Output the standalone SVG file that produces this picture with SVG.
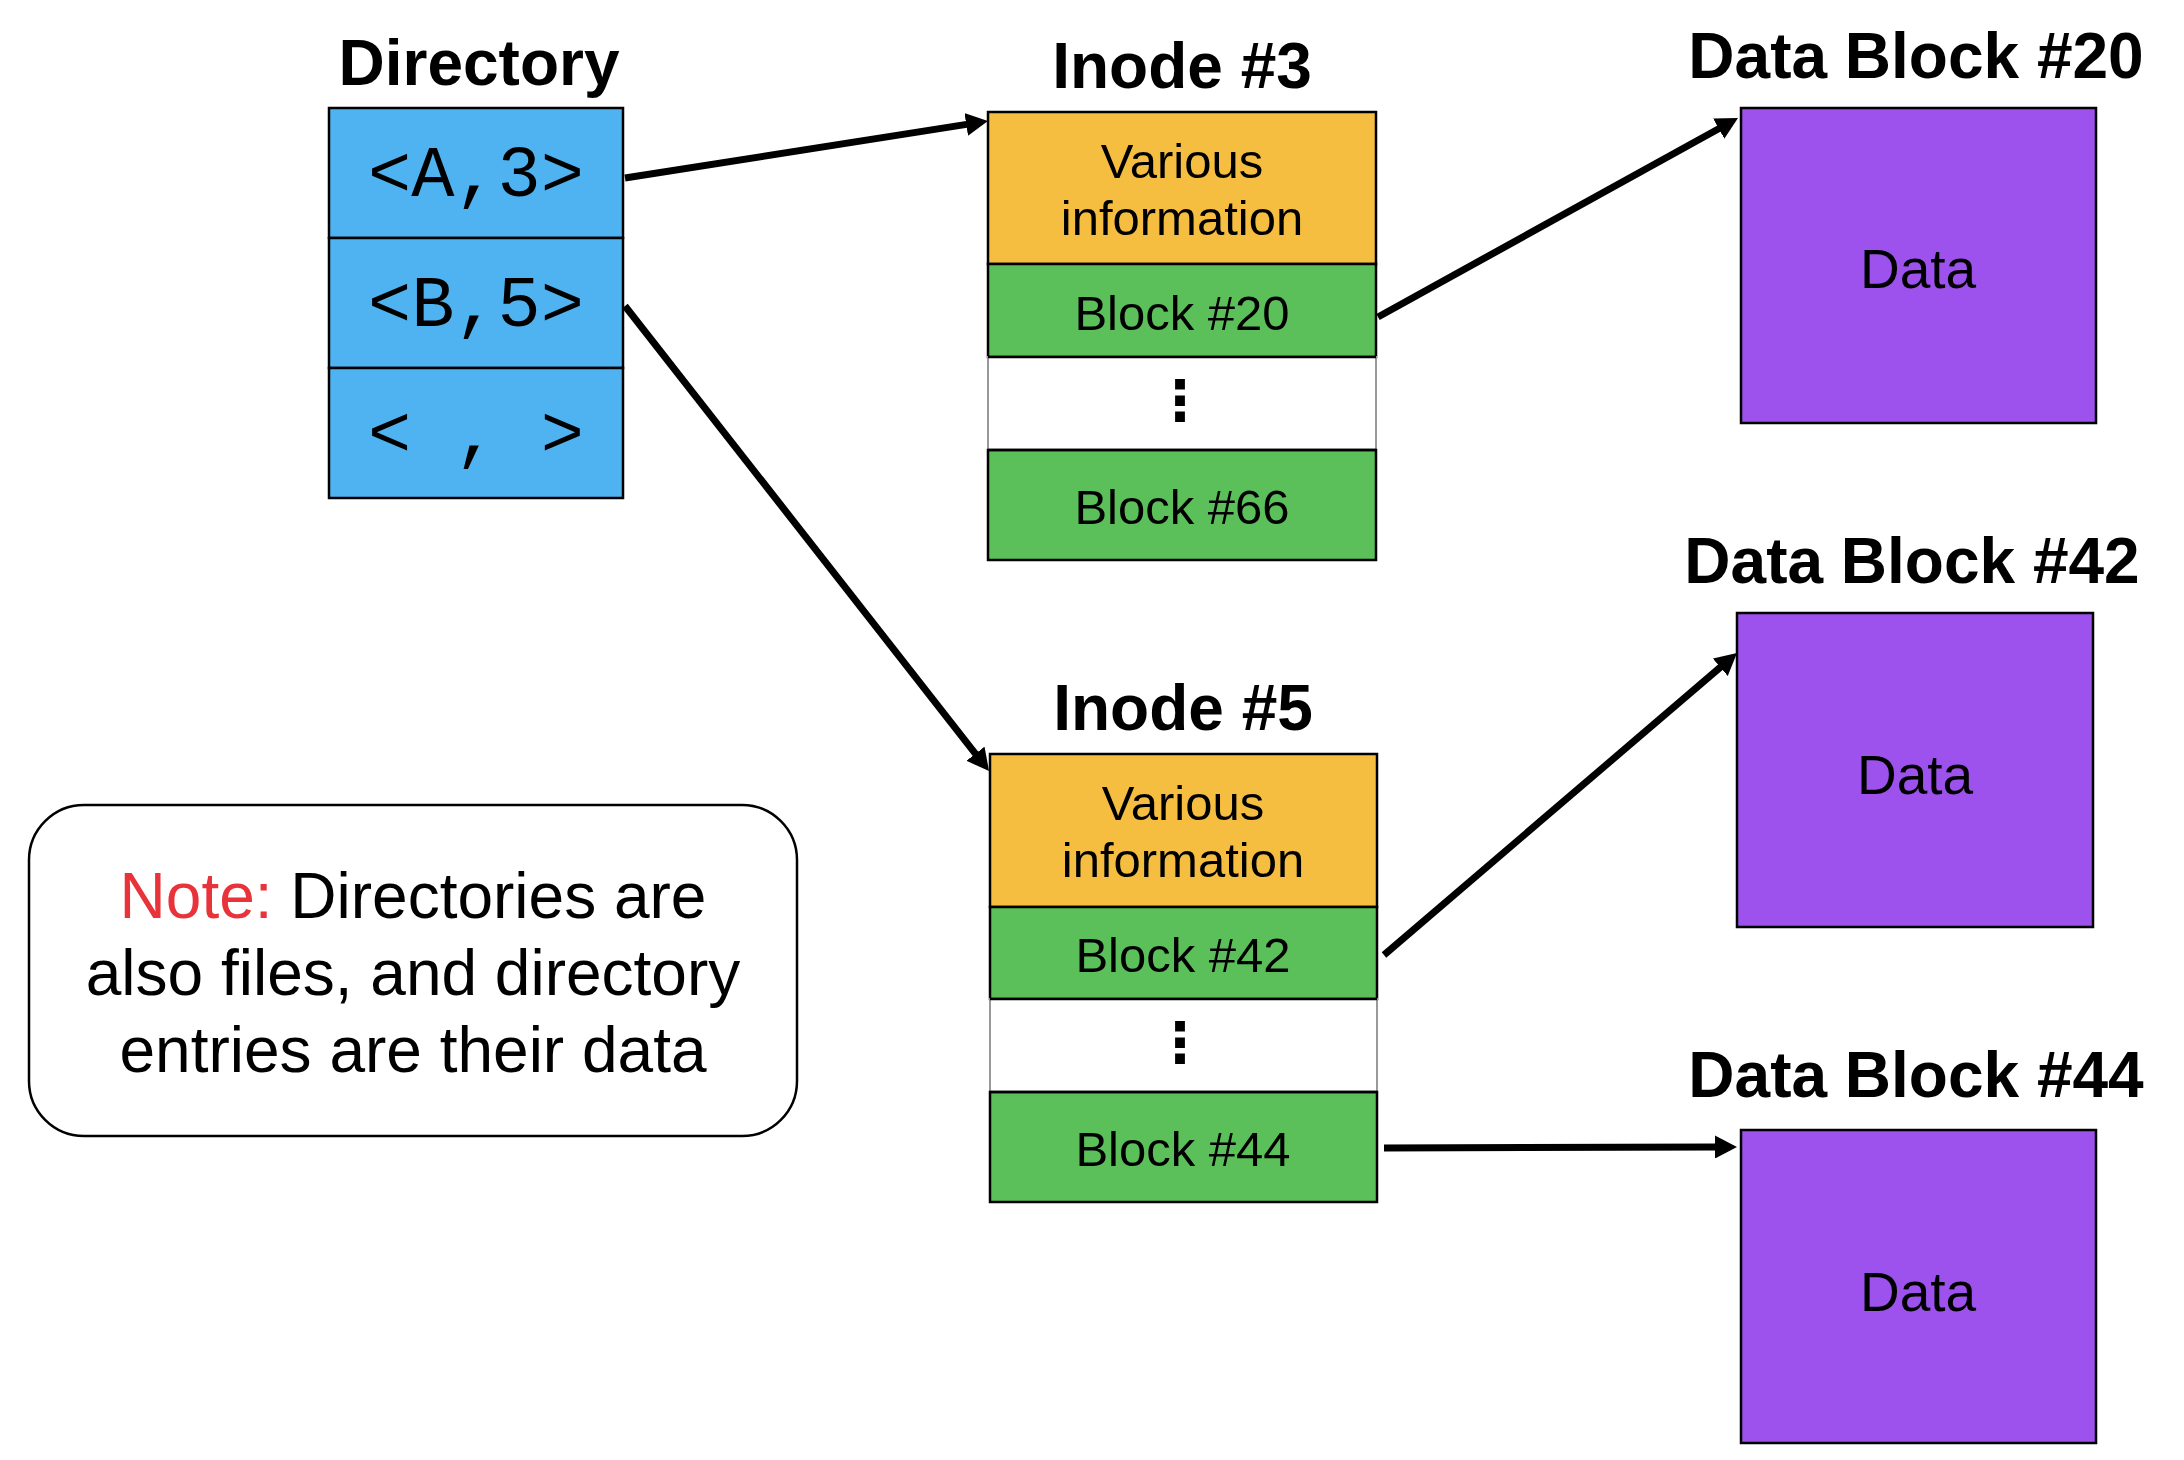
<svg xmlns="http://www.w3.org/2000/svg" width="2184" height="1460" viewBox="0 0 2184 1460">
<style>
  .title{font-family:"Liberation Sans",Arial,sans-serif;font-weight:bold;font-size:64px;fill:#000;text-anchor:middle}
  .lbl{font-family:"Liberation Sans",Arial,sans-serif;font-size:49px;fill:#000;text-anchor:middle}
  .data{font-family:"Liberation Sans",Arial,sans-serif;font-size:55px;fill:#000;text-anchor:middle}
  .mono{font-family:"Liberation Mono","Courier New",monospace;font-size:72px;fill:#000;text-anchor:middle}
  .note{font-family:"Liberation Sans",Arial,sans-serif;font-size:64px;fill:#000;text-anchor:middle}
  .dots{font-family:"DejaVu Sans",sans-serif;font-weight:bold;font-size:56px;fill:#000;text-anchor:middle}
  .box{stroke:#000;stroke-width:2.5}
  .blue{fill:#4fb3f2}
  .orange{fill:#f5be41}
  .green{fill:#5bc05a}
  .purple{fill:#9d52ee}
  .blank{fill:#fff;stroke:#999;stroke-width:2}
  .conn{stroke:#000;stroke-width:7;fill:none;marker-end:url(#arrow)}
</style>
<defs>
  <marker id="arrow" markerUnits="userSpaceOnUse" markerWidth="22" markerHeight="23" refX="2" refY="11.5" orient="auto">
    <path d="M0,0 L22,11.5 L0,23 Z" fill="#000"/>
  </marker>
</defs>
<rect width="2184" height="1460" fill="#fff"/>

<g id="directory">
  <text class="title" x="479" y="85">Directory</text>
  <rect class="box blue" x="329" y="108" width="294" height="130"/>
  <rect class="box blue" x="329" y="238" width="294" height="130"/>
  <rect class="box blue" x="329" y="368" width="294" height="130"/>
  <text class="mono" x="476" y="196">&lt;A,3&gt;</text>
  <text class="mono" x="476" y="326">&lt;B,5&gt;</text>
  <text class="mono" x="476" y="456" xml:space="preserve">&lt; , &gt;</text>
</g>

<g id="inode3">
  <text class="title" x="1182" y="88">Inode #3</text>
  <rect class="box orange" x="988" y="112" width="388" height="152"/>
  <rect class="box green" x="988" y="264" width="388" height="93"/>
  <rect class="blank" x="988" y="357" width="388" height="93"/>
  <rect class="box green" x="988" y="450" width="388" height="110"/>
  <line x1="988" y1="357" x2="1376" y2="357" stroke="#000" stroke-width="2.5"/>
  <line x1="988" y1="450" x2="1376" y2="450" stroke="#000" stroke-width="2.5"/>
  <text class="lbl" x="1182" y="178">Various</text>
  <text class="lbl" x="1182" y="235">information</text>
  <text class="lbl" x="1182" y="330">Block #20</text>
  <text class="dots" x="1180" y="420">⋮</text>
  <text class="lbl" x="1182" y="524">Block #66</text>
</g>

<g id="inode5">
  <text class="title" x="1183" y="730">Inode #5</text>
  <rect class="box orange" x="990" y="754" width="387" height="153"/>
  <rect class="box green" x="990" y="907" width="387" height="92"/>
  <rect class="blank" x="990" y="999" width="387" height="93"/>
  <rect class="box green" x="990" y="1092" width="387" height="110"/>
  <line x1="990" y1="999" x2="1377" y2="999" stroke="#000" stroke-width="2.5"/>
  <line x1="990" y1="1092" x2="1377" y2="1092" stroke="#000" stroke-width="2.5"/>
  <text class="lbl" x="1183" y="820">Various</text>
  <text class="lbl" x="1183" y="877">information</text>
  <text class="lbl" x="1183" y="972">Block #42</text>
  <text class="dots" x="1180" y="1062">⋮</text>
  <text class="lbl" x="1183" y="1166">Block #44</text>
</g>

<g id="datablock20">
  <text class="title" x="1916" y="78">Data Block #20</text>
  <rect class="box purple" x="1741" y="108" width="355" height="315"/>
  <text class="data" x="1918" y="288">Data</text>
</g>

<g id="datablock42">
  <text class="title" x="1912" y="583">Data Block #42</text>
  <rect class="box purple" x="1737" y="613" width="356" height="314"/>
  <text class="data" x="1915" y="794">Data</text>
</g>

<g id="datablock44">
  <text class="title" x="1916" y="1097">Data Block #44</text>
  <rect class="box purple" x="1741" y="1130" width="355" height="313"/>
  <text class="data" x="1918" y="1311">Data</text>
</g>

<g id="note">
  <rect x="29" y="805" width="768" height="331" rx="55" ry="55" fill="#fff" stroke="#000" stroke-width="2.5"/>
  <text class="note" x="413" y="918"><tspan fill="#e8333a">Note:</tspan> Directories are</text>
  <text class="note" x="413" y="995">also files, and directory</text>
  <text class="note" x="413" y="1072">entries are their data</text>
</g>

<g id="connectors">
  <line class="conn" x1="625" y1="178" x2="968.2" y2="124.1"/>
  <line class="conn" x1="625" y1="306" x2="976.7" y2="755.3"/>
  <line class="conn" x1="1378" y1="317" x2="1720.5" y2="127.7"/>
  <line class="conn" x1="1384" y1="955" x2="1721.8" y2="666"/>
  <line class="conn" x1="1384" y1="1148" x2="1717" y2="1147"/>
</g>
</svg>
